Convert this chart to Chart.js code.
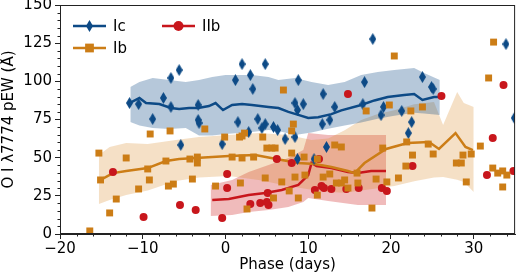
<!DOCTYPE html>
<html>
<head>
<meta charset="utf-8">
<script src="https://cdn.jsdelivr.net/npm/chart.js@4.4.1/dist/chart.umd.min.js"></script>
<style>
  html, body { margin: 0; padding: 0; background: #fff; }
  #grafica { display: block; }
</style>
</head>
<body>
<canvas id="grafica" width="520" height="275"></canvas>
<script>
// === DATOS ===
// Ic: puntos individuales
const icPhase = [-11.6,-10.5,-8.8,-7.5,-6.6,-5.6,-6.6,-5.4,-3.3,-3.3,-3.2,-0.4,1.2,2.0,3.0,3.3,1.5,2.8,3.9,4.4,4.8,4.8,5.8,6.3,7.2,8.4,8.8,8.4,8.7,9.4,8.7,10.7,11.8,11.7,12.6,12.2,13.2,16.8,17.8,16.6,18.8,19.1,21.3,22.5,22.1,23.8,24.9,25.1,33.9,34.9];
const icPew   = [85.8,85.1,75.3,89.1,102.2,107.4,83.2,58.3,84.5,74.7,72.7,58.9,100.8,111.3,104.1,95.0,73.3,66.8,75.3,69.4,111.3,72.0,70.1,68.1,62.2,63.5,100.8,85.8,81.2,85.1,49.1,49.1,91.7,72.0,74.7,57.0,83.2,99.5,127.7,85.1,77.9,83.2,80.6,73.3,66.1,102.8,96.3,95.0,124.4,76.0];

// Ib: puntos individuales
const ibPhase = [-16.4,-15.3,-15.1,-14.0,-13.2,-12.0,-10.5,-9.4,-9.2,-9.1,-7.2,-6.9,-6.3,-6.7,-4.3,-4.0,-3.4,-3.4,-2.5,-1.2,-0.1,0.8,1.7,2.0,2.3,2.0,1.8,2.6,3.4,4.5,4.8,5.0,5.6,6.0,5.8,6.8,7.0,7.7,8.0,8.0,8.2,8.4,8.8,9.5,9.6,11.1,11.1,11.8,12.6,13.2,14.0,13.4,14.0,14.4,14.8,15.9,16.0,17.0,17.7,18.2,19.0,19.5,19.8,20.4,20.9,21.8,21.9,22.4,22.6,23.8,24.5,25.1,27.9,28.5,28.7,29.1,29.7,30.8,31.8,32.4,32.3,32.9,33.5,33.5,34.0];
const ibPew   = [2.0,53.0,35.4,13.8,22.9,49.8,29.5,42.6,35.4,65.5,47.8,31.4,32.7,67.5,49.1,36.0,50.4,46.5,68.8,31.4,63.5,50.4,63.5,64.2,66.1,49.8,33.4,16.4,50.4,63.5,36.7,56.3,56.3,56.3,23.6,34.1,94.3,28.2,53.0,67.5,72.0,37.3,23.6,50.4,38.6,49.1,25.5,37.3,39.3,58.3,57.0,33.4,33.4,35.4,30.1,39.9,33.4,80.6,17.0,36.0,56.3,34.1,84.5,116.6,36.7,44.5,60.3,80.6,51.7,83.2,58.9,52.4,46.5,46.5,51.7,34.1,52.4,57.6,102.2,125.7,43.2,39.9,41.3,30.8,38.6];

// IIb: puntos individuales
const iibPhase = [-13.6,-9.9,-5.5,-3.6,-0.4,0.2,0.2,3.0,4.2,5.2,5.0,5.1,6.2,8.0,10.8,11.3,11.6,11.9,12.8,14.6,14.8,16.1,18.9,19.5,22.6,26.1,31.6,32.3,33.6,34.8];
const iibPew   = [40.6,11.1,19.0,15.7,10.5,39.3,30.1,19.6,20.3,19.0,21.0,26.8,49.1,46.5,28.8,49.1,31.4,30.1,29.5,29.5,91.7,30.1,30.1,28.2,44.5,90.4,38.6,62.9,97.6,41.3];

// Promedios moviles
const icLinePhase = [-11.6,-10.4,-9.6,-8.0,-6.6,-5.6,-4.4,-3.3,-2.0,-1.2,-0.3,0.8,2.0,3.2,5.2,6.4,7.6,8.8,10.0,11.2,12.8,14.0,16.4,18.0,19.6,21.6,22.8,23.8,25.2,26.0];
const icLinePew   = [85.8,89.1,85.8,85.1,82.5,81.9,82.5,82.5,83.8,85.8,81.2,84.5,85.1,84.5,83.2,82.5,80.0,78.0,76.0,76.5,78.5,81.0,84.5,87.5,89.7,91.0,91.7,87.8,89.7,89.7];

const ibLinePhase = [-15.1,-13.6,-12.0,-9.4,-7.2,-5.6,-3.6,-1.6,0.4,3.6,6.8,8.8,10.8,12.8,14.8,15.6,16.8,19.4,22.0,24.6,25.8,27.8,29.0,29.9];
const ibLinePew   = [35.4,39.9,41.3,43.2,47.8,49.1,49.8,50.4,51.1,51.7,48.5,46.5,45.8,43.9,41.3,39.9,46.5,55.7,59.6,60.3,55.7,66.1,57.0,55.0];

const iibLinePhase = [-1.6,0.4,2.8,4.8,6.8,8.8,10.0,10.4,11.0,12.8,14.8,16.0,17.6,19.4];
const iibLinePew   = [22.3,22.9,25.5,26.8,28.8,32.1,38.6,46.5,44.5,43.2,40.6,39.9,41.3,41.3];

// Bandas (desviacion)
const icBandPhase  = [-11.5,-10.4,-8.8,-6.8,-4.8,-3.2,-1.6,0,3.2,5.2,6.4,8.4,10.4,12.4,14.4,16.4,18.4,20.4,22.8,24.0,25.9];
const icBandTop    = [96.3,99.5,102.2,100.8,99.5,100.8,102.8,104.1,104.1,102.8,100.8,102.2,99.5,97.6,99.5,104.1,106.1,107.4,108.7,105.4,100.8];
const icBandBottom = [73.3,71.0,69.5,68.8,69.5,64.5,64.5,65.5,66.8,68.1,67.5,64.8,66.5,69.0,71.0,73.0,75.5,77.5,79.5,79.0,78.0];

const ibBandPhase  = [-15.3,-14.0,-12.0,-9.4,-6.0,-3.2,0.4,4.0,7.6,10.4,12.4,14.4,16.4,18.4,20.4,22.8,25.2,26.3,28.0,28.8,30.0];
const ibBandTop    = [51.7,57.0,59.6,58.9,61.6,63.5,64.8,66.1,64.8,61.6,62.5,68.0,74.7,78.6,81.0,85.0,86.4,71.4,93.0,85.8,83.2];
const ibBandBottom = [19.6,22.3,25.5,28.5,34.7,37.0,38.0,35.4,31.4,29.0,27.5,27.0,28.5,30.0,31.4,34.5,37.0,37.3,35.5,34.1,27.5];

const iibBandPhase  = [-1.8,0.8,2.8,5.2,7.6,9.4,10.0,12.4,16.0,19.4];
const iibBandTop    = [32.1,35.4,40.6,45.2,49.8,55.0,66.1,64.8,64.8,64.8];
const iibBandBottom = [11.8,12.4,14.4,15.7,17.7,21.0,23.6,21.6,19.0,19.0];

const xTicks = [-20, -10, 0, 10, 20, 30];
const yTicks = [0, 25, 50, 75, 100, 125, 150];

// Colores
const icColor  = '#0d4a86';
const ibColor  = '#cc7d16';
const iibColor = '#c8161c';
const icFill   = 'rgba(13,74,134,0.3)';
const ibFill   = 'rgba(214,130,28,0.25)';
const iibFill  = 'rgba(205,30,30,0.3)';

const FONT = "'DejaVu Sans', sans-serif";

function pts(xs, ys) {
  return xs.map((x, i) => ({ x, y: ys[i] }));
}

// diamante delgado (marcador 'd')
function thinDiamond(color, w, h) {
  const c = document.createElement('canvas');
  c.width = w; c.height = h;
  const g = c.getContext('2d');
  g.fillStyle = color;
  g.beginPath();
  g.moveTo(w / 2, 0);
  g.lineTo(w, h / 2);
  g.lineTo(w / 2, h);
  g.lineTo(0, h / 2);
  g.closePath();
  g.fill();
  return c;
}
const diamondImg = thinDiamond(icColor, 7, 12);

function band(xs, top, bottom, fill) {
  return [
    { data: pts(xs, top), fill: '+1', backgroundColor: fill, borderWidth: 0, pointRadius: 0, showLine: true, order: 3 },
    { data: pts(xs, bottom), fill: false, borderWidth: 0, pointRadius: 0, showLine: true, order: 3 }
  ];
}

function linea(xs, ys, color) {
  return { data: pts(xs, ys), showLine: true, borderColor: color, borderWidth: 2.5, pointRadius: 0, fill: false, order: 2 };
}

// Ticks menores y marco
const marcoPlugin = {
  id: 'marco',
  afterDraw(chart) {
    const { ctx, chartArea: a, scales } = chart;
    ctx.save();
    ctx.strokeStyle = '#222';
    ctx.lineWidth = 1;
    ctx.strokeRect(a.left + 0.5, a.top + 0.5, a.right - a.left - 1, a.bottom - a.top - 1);
    ctx.beginPath();
    for (let v = -20; v <= 35; v += 2) {
      if (v % 10 === 0) continue;
      const px = Math.round(scales.x.getPixelForValue(v)) + 0.5;
      ctx.moveTo(px, a.bottom);
      ctx.lineTo(px, a.bottom + 2.5);
    }
    for (let v = 0; v <= 150; v += 5) {
      if (v % 25 === 0) continue;
      const py = Math.round(scales.y.getPixelForValue(v)) + 0.5;
      ctx.moveTo(a.left, py);
      ctx.lineTo(a.left - 2.5, py);
    }
    ctx.stroke();
    ctx.restore();
  }
};

// Leyenda dentro del area
const leyendaPlugin = {
  id: 'leyenda',
  afterDraw(chart) {
    const { ctx, chartArea: a } = chart;
    const items = [
      { t: 'Ic',  c: icColor,  m: diamondImg, r: 4,   x: 13,  y: 21 },
      { t: 'Ib',  c: ibColor,  m: 'rect',     r: 6.2, x: 13,  y: 43 },
      { t: 'IIb', c: iibColor, m: 'circle',   r: 5,   x: 102, y: 21 }
    ];
    ctx.save();
    ctx.font = '15px ' + FONT;
    ctx.textBaseline = 'middle';
    items.forEach(it => {
      const x0 = a.left + it.x, y0 = a.top + it.y;
      ctx.strokeStyle = it.c;
      ctx.lineWidth = 2.5;
      ctx.beginPath();
      ctx.moveTo(x0, y0);
      ctx.lineTo(x0 + 33, y0);
      ctx.stroke();
      ctx.fillStyle = it.c;
      Chart.helpers.drawPoint(ctx, { pointStyle: it.m, radius: it.r, rotation: 0, borderWidth: 0 }, x0 + 16.5, y0);
      ctx.fillStyle = '#000';
      ctx.fillText(it.t, x0 + 40, y0 + 1);
    });
    ctx.restore();
  }
};

const datasets = [
  ...band(icBandPhase, icBandTop, icBandBottom, icFill),
  ...band(ibBandPhase, ibBandTop, ibBandBottom, ibFill),
  ...band(iibBandPhase, iibBandTop, iibBandBottom, iibFill),
  linea(icLinePhase, icLinePew, icColor),
  linea(ibLinePhase, ibLinePew, ibColor),
  linea(iibLinePhase, iibLinePew, iibColor),
  { data: pts(ibPhase, ibPew), pointStyle: 'rect', pointRadius: 4.9, backgroundColor: ibColor, borderWidth: 0, showLine: false, clip: 0, order: 1 },
  { data: pts(iibPhase, iibPew), pointStyle: 'circle', pointRadius: 4, backgroundColor: iibColor, borderWidth: 0, showLine: false, clip: 0, order: 1 },
  { data: pts(icPhase, icPew), pointStyle: diamondImg, pointRadius: 4, backgroundColor: icColor, borderWidth: 0, showLine: false, clip: 0, order: 1 }
];

const tickFont = { family: FONT, size: 15 };

new Chart(document.getElementById('grafica'), {
  type: 'scatter',
  data: { datasets },
  plugins: [marcoPlugin, leyendaPlugin],
  options: {
    responsive: false,
    animation: false,
    devicePixelRatio: 1,
    layout: { padding: { top: 5, right: 1, left: 0, bottom: 0 } },
    plugins: { legend: { display: false }, tooltip: { enabled: false } },
    elements: { line: { tension: 0 } },
    scales: {
      x: {
        type: 'linear', min: -20, max: 35,
        afterBuildTicks: s => { s.ticks = xTicks.map(v => ({ value: v })); },
        afterFit: s => { s.height = 41; s.paddingLeft = 0; s.paddingRight = 0; },
        ticks: { font: tickFont, color: '#000', padding: 1, maxRotation: 0,
                 callback: v => String(v).replace('-', '\u2212') },
        grid: { drawOnChartArea: false, tickLength: 5, color: '#222' },
        border: { color: '#222', width: 1 },
        title: { display: true, text: 'Phase (days)', font: tickFont, color: '#000', padding: { top: 0, bottom: 1 } }
      },
      y: {
        type: 'linear', min: 0, max: 150,
        afterBuildTicks: s => { s.ticks = yTicks.map(v => ({ value: v })); },
        afterFit: s => { s.width = 60; s.paddingTop = 0; s.paddingBottom = 0; },
        ticks: { font: tickFont, color: '#000', padding: 3 },
        grid: { drawOnChartArea: false, tickLength: 5, color: '#222' },
        border: { color: '#222', width: 1 },
        title: { display: true, text: 'O I \u03bb7774 pEW (\u00c5)', font: tickFont, color: '#000', padding: { top: 0, bottom: 2 } }
      }
    }
  }
});
</script>
</body>
</html>
